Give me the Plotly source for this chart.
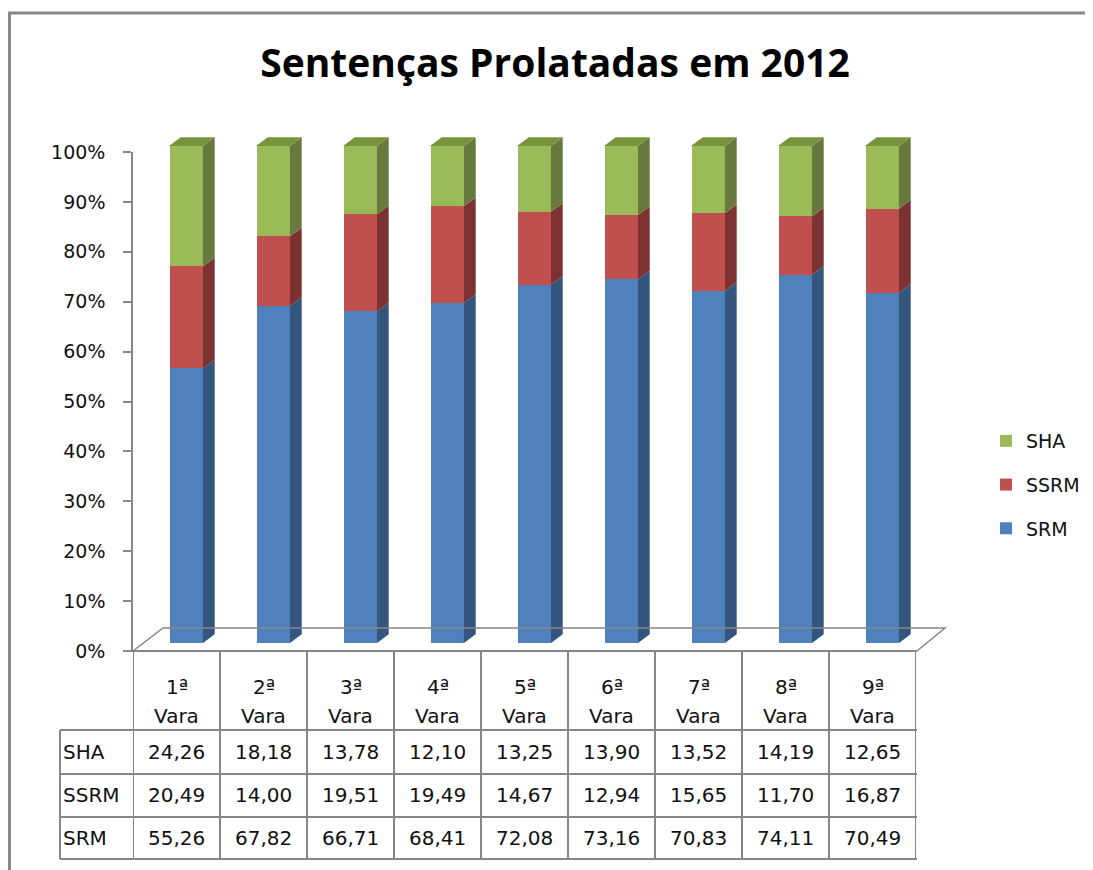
import plotly.graph_objects as go

# ---------------- data ----------------
categories = ["1ª Vara", "2ª Vara", "3ª Vara", "4ª Vara", "5ª Vara",
              "6ª Vara", "7ª Vara", "8ª Vara", "9ª Vara"]
ordinals = ["1ª", "2ª", "3ª", "4ª", "5ª", "6ª", "7ª", "8ª", "9ª"]
sha = [24.26, 18.18, 13.78, 12.10, 13.25, 13.90, 13.52, 14.19, 12.65]
ssrm = [20.49, 14.00, 19.51, 19.49, 14.67, 12.94, 15.65, 11.70, 16.87]
srm = [55.26, 67.82, 66.71, 68.41, 72.08, 73.16, 70.83, 74.11, 70.49]
y_ticks = [0, 10, 20, 30, 40, 50, 60, 70, 80, 90, 100]
y_ticktext = ["0%", "10%", "20%", "30%", "40%", "50%", "60%", "70%", "80%", "90%", "100%"]
title_text = "Sentenças Prolatadas em 2012"

# ---------------- style ----------------
OFF = 8                      # page body margin
W, H = 1093 - OFF, 870 - OFF
FONT = "DejaVu Sans"
GRAY = "#868686"
front = {"SRM": "#4F81BD", "SSRM": "#C0504D", "SHA": "#9BBB59"}
side = {"SRM": "#34557E", "SSRM": "#7C3231", "SHA": "#67793D"}
top_col = "#77933C"
rank = {"SHA": 1, "SSRM": 2, "SRM": 3}


def X(px):
    return (px - OFF) / W


def Y(py):
    return 1 - (py - OFF) / H


BAR_W = 0.39      # bar width in category units
DX = 0.135        # 3D depth offset (category units)
DY = 1.75         # 3D depth offset (percent units)
PX_PER_PCT = 4.97
Y2_MAX = 104

fig = go.Figure()

idx = list(range(len(categories)))
series = [("SRM", srm), ("SSRM", ssrm), ("SHA", sha)]

# front faces
for name, vals in series:
    fig.add_trace(go.Bar(
        x=idx, y=vals, name=name, width=BAR_W,
        marker=dict(color=front[name], line=dict(width=0)),
        xaxis="x2", yaxis="y2", legendgroup=name, legendrank=rank[name],
        hovertext=categories, hoverinfo="text+y+name",
    ))

# side faces and top faces (derived from data)
for i in idx:
    base = 0.0
    xr = i + BAR_W / 2
    xl = i - BAR_W / 2
    for name, vals in series:
        y0 = base
        y1 = base + vals[i]
        fig.add_trace(go.Scatter(
            x=[xr, xr + DX, xr + DX, xr, xr],
            y=[y0, y0 + DY, y1 + DY, y1, y0],
            fill="toself", fillcolor=side[name], mode="lines",
            line=dict(width=0, color=side[name]),
            xaxis="x2", yaxis="y2", showlegend=False, hoverinfo="skip",
        ))
        base = y1
    fig.add_trace(go.Scatter(
        x=[xl, xr, xr + DX, xl + DX, xl],
        y=[base, base, base + DY, base + DY, base],
        fill="toself", fillcolor=top_col, mode="lines",
        line=dict(width=0, color=top_col),
        xaxis="x2", yaxis="y2", showlegend=False, hoverinfo="skip",
    ))

shapes = []
# outer chart frame
shapes.append(dict(type="line", xref="paper", yref="paper",
                   x0=X(9.5), y0=Y(13), x1=X(9.5), y1=Y(875),
                   line=dict(color="#888888", width=3)))
shapes.append(dict(type="line", xref="paper", yref="paper",
                   x0=X(8), y0=Y(13), x1=X(1100), y1=Y(13),
                   line=dict(color="#888888", width=3)))
# floor
shapes.append(dict(type="path", xref="paper", yref="paper",
                   path=f"M {X(133)} {Y(651)} L {X(163)} {Y(628)} L {X(945)} {Y(628)} L {X(917)} {Y(651)}",
                   line=dict(color=GRAY, width=1.5)))
# table grid
for k in range(len(categories) + 1):
    shapes.append(dict(type="line", xref="x", yref="paper",
                       x0=k - 0.5, x1=k - 0.5, y0=Y(651), y1=Y(859),
                       line=dict(color=GRAY, width=2)))
shapes.append(dict(type="line", xref="paper", yref="paper",
                   x0=X(125), x1=X(917), y0=Y(651), y1=Y(651),
                   line=dict(color=GRAY, width=2)))
for ry in [730, 774, 817, 859]:
    shapes.append(dict(type="line", xref="paper", yref="paper",
                       x0=X(60), x1=X(917), y0=Y(ry), y1=Y(ry),
                       line=dict(color=GRAY, width=2)))
shapes.append(dict(type="line", xref="paper", yref="paper",
                   x0=X(60), x1=X(60), y0=Y(730), y1=Y(859),
                   line=dict(color=GRAY, width=2)))

annotations = []
TF = dict(family=FONT, size=20, color="#111111")
for i in idx:
    annotations.append(dict(x=i, y=Y(687), xref="x", yref="paper", text=ordinals[i],
                            showarrow=False, font=TF, xanchor="center", yanchor="middle"))
    annotations.append(dict(x=i, y=Y(716), xref="x", yref="paper", text="Vara",
                            showarrow=False, font=TF, xanchor="center", yanchor="middle"))
rows = [("SHA", sha, 752), ("SSRM", ssrm, 795), ("SRM", srm, 838)]
for label, vals, ry in rows:
    annotations.append(dict(x=X(61), y=Y(ry), xref="paper", yref="paper", text=label,
                            showarrow=False, font=TF, xanchor="left", yanchor="middle"))
    for i in idx:
        annotations.append(dict(x=i, y=Y(ry), xref="x", yref="paper",
                                text=f"{vals[i]:.2f}".replace(".", ","),
                                showarrow=False, font=TF, xanchor="center", yanchor="middle"))

fig.update_layout(
    width=W, height=H, autosize=False,
    margin=dict(l=0, r=0, t=0, b=0, pad=0, autoexpand=False),
    paper_bgcolor="white", plot_bgcolor="rgba(0,0,0,0)",
    barmode="stack", bargap=0,
    title=dict(text=f"<b>{title_text}</b>", x=X(555), y=Y(63), xanchor="center", yanchor="middle",
               xref="paper", yref="paper",
               font=dict(family="Open Sans", size=39, color="#000000")),
    xaxis=dict(domain=[X(133), X(916)], range=[-0.5, 8.5], visible=False, fixedrange=True,
               automargin=False),
    yaxis=dict(domain=[Y(651), Y(152)], range=[0, 100], tickvals=y_ticks, ticktext=y_ticktext,
               showline=True, linecolor=GRAY, linewidth=1.5, ticks="outside", ticklen=8,
               tickcolor=GRAY, tickwidth=1.5, showgrid=False, zeroline=False,
               tickfont=dict(family=FONT, size=19, color="#111111"), ticklabelstandoff=14,
               fixedrange=True, automargin=False),
    xaxis2=dict(domain=[X(142.5), X(925.5)], range=[-0.5, 8.5], anchor="y2", visible=False,
                fixedrange=True, automargin=False),
    yaxis2=dict(domain=[Y(643), Y(643 - Y2_MAX * PX_PER_PCT)], range=[0, Y2_MAX], anchor="x2",
                visible=False, fixedrange=True, automargin=False),
    legend=dict(x=X(986), y=Y(485), xanchor="left", yanchor="middle",
                traceorder="grouped", tracegroupgap=16,
                font=dict(family=FONT, size=19, color="#111111"),
                bgcolor="rgba(0,0,0,0)"),
    shapes=shapes, annotations=annotations,
)

fig.write_html("out.html")
